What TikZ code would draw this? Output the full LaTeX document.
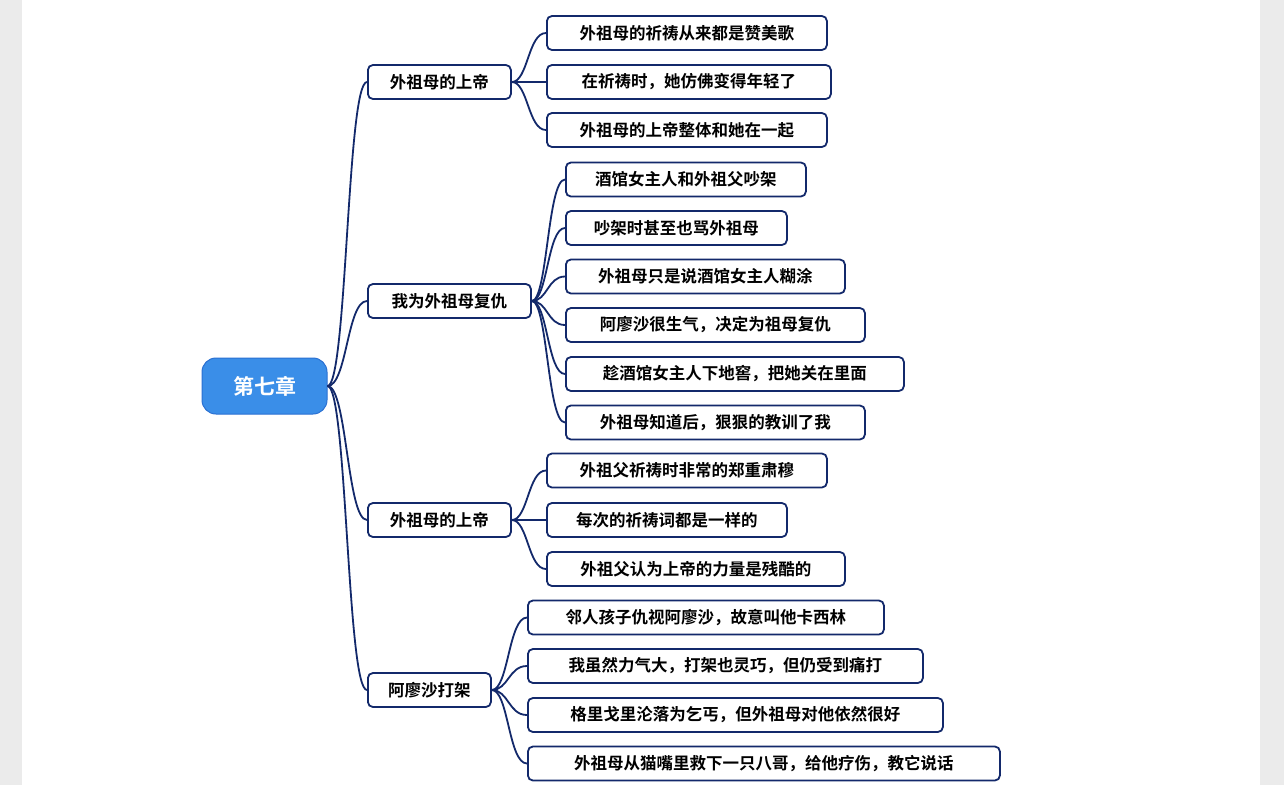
\documentclass[tikz,border=0pt]{standalone}
\usepackage{fontspec}
\setmainfont{Noto Sans CJK SC}[BoldFont={Noto Sans CJK SC Bold}]
\usetikzlibrary{calc}
\definecolor{pagegray}{HTML}{EBEBEB}
\definecolor{navy}{HTML}{13296B}
\definecolor{rootblue}{HTML}{3A8EE8}
\definecolor{rootedge}{HTML}{2A70D2}
\tikzset{
  rootbox/.style={draw=rootedge, line width=1pt, fill=rootblue, rounded corners=14pt,
    minimum width=125pt, minimum height=56pt, inner sep=0pt, text=white,
    font=\fontsize{21}{24}\selectfont\bfseries},
  topic/.style={draw=navy, line width=1.8pt, fill=white, rounded corners=5pt,
    minimum height=34pt, inner sep=0pt, anchor=west, text=black,
    font=\fontsize{16.5}{20}\selectfont\bfseries},
  conn/.style={draw=navy, line width=1.8pt},
}
\begin{document}
\begin{tikzpicture}[x=1pt,y=-1pt]
\fill[pagegray] (0,0) rectangle (1284,785);
\fill[white] (22,0) rectangle (1260,785);
\useasboundingbox (0,0) rectangle (1284,785);

\node[rootbox] (root) at (264.5,386) {第七章};

\node[topic, minimum width=143pt] (l1a) at (367,82) {外祖母的上帝};
\node[topic, minimum width=163pt] (l1b) at (367,301) {我为外祖母复仇};
\node[topic, minimum width=143pt] (l1c) at (367,520) {外祖母的上帝};
\node[topic, minimum width=123pt] (l1d) at (367,690) {阿廖沙打架};

\node[topic, minimum width=280pt] (a1) at (546,33) {外祖母的祈祷从来都是赞美歌};
\node[topic, minimum width=284pt] (a2) at (546,82) {在祈祷时，她仿佛变得年轻了};
\node[topic, minimum width=280pt] (a3) at (546,130) {外祖母的上帝整体和她在一起};

\node[topic, minimum width=240pt] (b1) at (565,179.5) {酒馆女主人和外祖父吵架};
\node[topic, minimum width=221pt] (b2) at (565,228) {吵架时甚至也骂外祖母};
\node[topic, minimum width=279pt] (b3) at (565,276.5) {外祖母只是说酒馆女主人糊涂};
\node[topic, minimum width=299pt] (b4) at (565,325) {阿廖沙很生气，决定为祖母复仇};
\node[topic, minimum width=338pt] (b5) at (565,374) {趁酒馆女主人下地窖，把她关在里面};
\node[topic, minimum width=299pt] (b6) at (565,422.5) {外祖母知道后，狠狠的教训了我};

\node[topic, minimum width=280pt] (c1) at (546,470.5) {外祖父祈祷时非常的郑重肃穆};
\node[topic, minimum width=240pt] (c2) at (546,520) {每次的祈祷词都是一样的};
\node[topic, minimum width=298pt] (c3) at (546,569) {外祖父认为上帝的力量是残酷的};

\node[topic, minimum width=356pt] (d1) at (527,617.5) {邻人孩子仇视阿廖沙，故意叫他卡西林};
\node[topic, minimum width=395pt] (d2) at (527,666) {我虽然力气大，打架也灵巧，但仍受到痛打};
\node[topic, minimum width=415pt] (d3) at (527,715) {格里戈里沦落为乞丐，但外祖母对他依然很好};
\node[topic, minimum width=472pt] (d4) at (527,763.5) {外祖母从猫嘴里救下一只八哥，给他疗伤，教它说话};

\coordinate (m0) at (347,0);
\coordinate (g1) at (528,0);
\coordinate (g2) at (547.5,0);
\coordinate (g3) at (528,0);
\coordinate (g4) at (508.5,0);

\foreach \t in {l1a,l1b,l1c,l1d}
  \draw[conn] (root.east) .. controls (root.east -| m0) and (\t.west -| m0) .. (\t.west);
\foreach \t in {a1,a2,a3}
  \draw[conn] (l1a.east) .. controls (l1a.east -| g1) and (\t.west -| g1) .. (\t.west);
\foreach \t in {b1,b2,b3,b4,b5,b6}
  \draw[conn] (l1b.east) .. controls (l1b.east -| g2) and (\t.west -| g2) .. (\t.west);
\foreach \t in {c1,c2,c3}
  \draw[conn] (l1c.east) .. controls (l1c.east -| g3) and (\t.west -| g3) .. (\t.west);
\foreach \t in {d1,d2,d3,d4}
  \draw[conn] (l1d.east) .. controls (l1d.east -| g4) and (\t.west -| g4) .. (\t.west);
\end{tikzpicture}
\end{document}
